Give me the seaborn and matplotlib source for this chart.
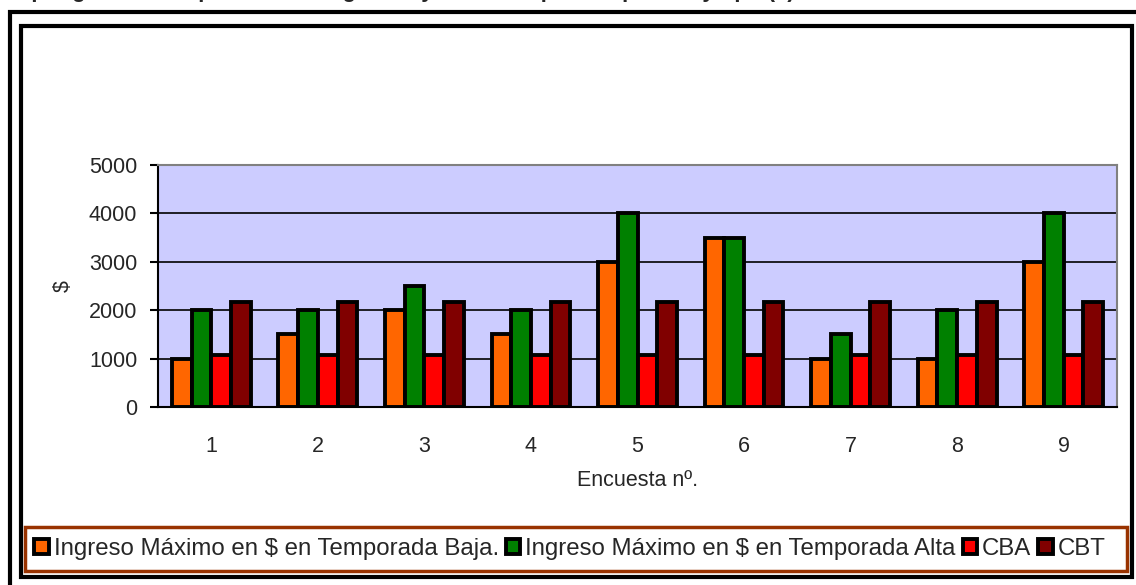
import matplotlib
matplotlib.use("Agg")
import matplotlib.pyplot as plt
import matplotlib.patches as mpatches
from matplotlib.ticker import MultipleLocator
import seaborn as sns
import pandas as pd

# datos
encuestas = ['1', '2', '3', '4', '5', '6', '7', '8', '9']
temporada_baja = [1000, 1500, 2000, 1500, 3000, 3500, 1000, 1000, 3000]
temporada_alta = [2000, 2000, 2500, 2000, 4000, 3500, 1500, 2000, 4000]
cba = [1075, 1075, 1075, 1075, 1075, 1075, 1075, 1075, 1075]
cbt = [2175, 2175, 2175, 2175, 2175, 2175, 2175, 2175, 2175]
series = ['Ingreso Máximo en $ en Temporada Baja.',
          'Ingreso Máximo en $ en Temporada Alta', 'CBA', 'CBT']
colores = ['#FF6600', '#008000', '#FF0000', '#800000']

df = pd.DataFrame({'Encuesta': encuestas * 4,
                   'Serie': [s for s in series for _ in encuestas],
                   'Valor': temporada_baja + temporada_alta + cba + cbt})

sns.set_style("white")
plt.rcParams['font.family'] = ['Liberation Sans', 'DejaVu Sans']

fig = plt.figure(figsize=(11.36, 5.85), dpi=100)
ax = fig.add_axes([158 / 1136, 1 - 407 / 585, (1117 - 158) / 1136, (407 - 165) / 585])

sns.barplot(data=df, x='Encuesta', y='Valor', hue='Serie', palette=colores,
            edgecolor='black', linewidth=2.8, width=0.74, saturation=1, ax=ax)

ax.set_facecolor('#CCCCFF')
ax.set_xlim(-0.5, 8.5)
ax.set_ylim(0, 5000)
ax.yaxis.set_major_locator(MultipleLocator(1000))
ax.set_axisbelow(True)
ax.grid(axis='y', color='black', linewidth=1.2)
ax.grid(axis='x', visible=False)

for s in ['left', 'bottom']:
    ax.spines[s].set_color('black')
    ax.spines[s].set_linewidth(1.5)
for s in ['top', 'right']:
    ax.spines[s].set_color('#808080')
    ax.spines[s].set_linewidth(1.5)

ax.set_xticks([i + 0.5 for i in range(-1, 9)], minor=True)
ax.tick_params(axis='x', which='major', length=0, pad=21, labelsize=15.5)
ax.tick_params(axis='x', which='minor', length=6, width=1.5, color='black', direction='out')
ax.tick_params(axis='y', length=6, width=1.5, color='black', direction='out', pad=9, labelsize=15.5, left=True)
ax.set_xlabel('Encuesta nº.', fontsize=15.5, labelpad=9)
ax.set_ylabel('$', fontsize=15.5, labelpad=11)

handles, labels = ax.get_legend_handles_labels()
ax.get_legend().remove()
fig.legend(handles, labels, loc='center', bbox_to_anchor=(570 / 1136, 1 - 549 / 585),
           ncol=4, frameon=False, fontsize=17.3, handlelength=0.6, handleheight=0.6,
           handletextpad=0.2, columnspacing=0.3, borderpad=0)

# marcos
fig.patches.append(mpatches.Rectangle((25 / 1136, 1 - 571 / 585), (1127 - 25) / 1136, 44 / 585,
                                      transform=fig.transFigure, fill=False,
                                      edgecolor='#993300', linewidth=2.5))
fig.patches.append(mpatches.Rectangle((21 / 1136, 1 - 577 / 585), (1132 - 21) / 1136, (577 - 26) / 585,
                                      transform=fig.transFigure, fill=False,
                                      edgecolor='black', linewidth=3))
fig.patches.append(mpatches.Rectangle((10 / 1136, -0.1), 1.2, 1 - 12 / 585 + 0.1,
                                      transform=fig.transFigure, fill=False,
                                      edgecolor='black', linewidth=3))

# título cortado en la parte superior, como en la imagen original
fig.text(-8 / 1136, 1 + 3 / 585, 'Grupo: gráfico comparativo de ingresos y canastas por temporada y tipo ($)',
         fontsize=16, fontweight='bold', va='baseline', ha='left')

fig.savefig('out.png', dpi=100)
